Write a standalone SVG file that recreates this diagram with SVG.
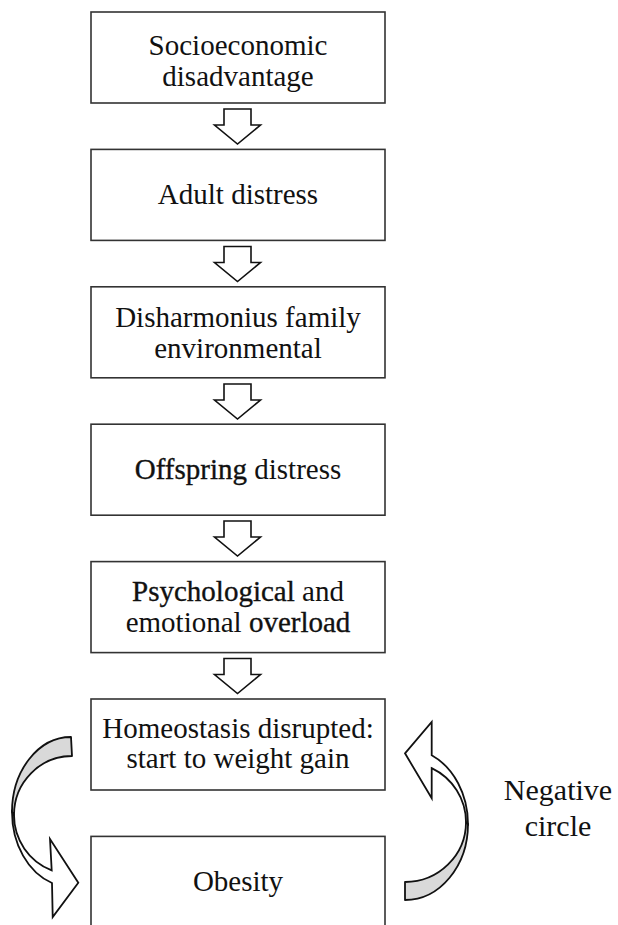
<svg xmlns="http://www.w3.org/2000/svg" width="618" height="925" viewBox="0 0 618 925">
<style>
.box{fill:#fff;stroke:#333;stroke-width:1.6}
.t{font-family:'Liberation Serif','Times New Roman',serif;font-size:29px;fill:#111;text-anchor:middle}
.em{stroke:#111;stroke-width:0.35}
.da{fill:#fff;stroke:#111;stroke-width:1.6;stroke-linejoin:miter}
.grey{fill:#d9d9d9;stroke:#111;stroke-width:1.8;stroke-linejoin:round}
.white{fill:#fff;stroke:#111;stroke-width:1.8;stroke-linejoin:miter}
</style>
<defs>
<path id="down" class="da" d="M-13.5,0 H13.5 V16 H23 L0,35 L-23,16 H-13.5 Z"/>
</defs>
<rect width="618" height="925" fill="#fff"/>
<g id="connectors">
<use href="#down" x="237.5" y="109"/>
<use href="#down" x="237.5" y="246.5"/>
<use href="#down" x="237.5" y="384"/>
<use href="#down" x="237.5" y="521"/>
<use href="#down" x="237.5" y="658.5"/>
<g id="curved-left">
<path class="grey" d="M71,737 A59,75 0 0 0 12,812 L14,815 A58,59 0 0 1 72,756 Z"/>
<path class="white" d="M12,812 A59,75 0 0 0 52,883 L52.7,917 L78.3,882.7 L50,839 L51.7,870.3 A58,59 0 0 1 14,815 Z"/>
</g>
<g id="curved-right">
<path class="grey" d="M405,900 A63,76 0 0 0 468,824 L466,822 A61,60 0 0 1 405,882 Z"/>
<path class="white" d="M468,824 A63,76 0 0 0 431.7,755.2 L431.7,722 L405,753.3 L431.7,798.3 L431.7,768.1 A61,60 0 0 1 466,822 Z"/>
</g>
</g>
<g id="n1">
<rect class="box" x="91" y="12" width="294" height="91"/>
<text class="t" x="238" y="55">Socioeconomic</text>
<text class="t" x="238" y="86">disadvantage</text>
</g>
<g id="n2">
<rect class="box" x="91" y="149.4" width="294" height="91"/>
<text class="t" x="238" y="204">Adult distress</text>
</g>
<g id="n3">
<rect class="box" x="91" y="286.8" width="294" height="91"/>
<text class="t" x="238" y="327">Disharmonius family</text>
<text class="t" x="238" y="358">environmental</text>
</g>
<g id="n4">
<rect class="box" x="91" y="424.2" width="294" height="91"/>
<text class="t" x="238" y="479"><tspan class="em">Offspring</tspan> distress</text>
</g>
<g id="n5">
<rect class="box" x="91" y="561.6" width="294" height="91"/>
<text class="t" x="238" y="601"><tspan class="em">Psychological</tspan> and</text>
<text class="t" x="238" y="632">emotional <tspan class="em">overload</tspan></text>
</g>
<g id="n6">
<rect class="box" x="91" y="699" width="294" height="91"/>
<text class="t" x="238" y="738">Homeostasis disrupted:</text>
<text class="t" x="238" y="768">start to weight gain</text>
</g>
<g id="n7">
<rect class="box" x="91" y="836.4" width="294" height="100"/>
<text class="t" x="238" y="891">Obesity</text>
</g>
<g id="label">
<text class="t" x="558" y="800" style="font-size:30px">Negative</text>
<text class="t" x="558" y="836" style="font-size:30px">circle</text>
</g>
</svg>
